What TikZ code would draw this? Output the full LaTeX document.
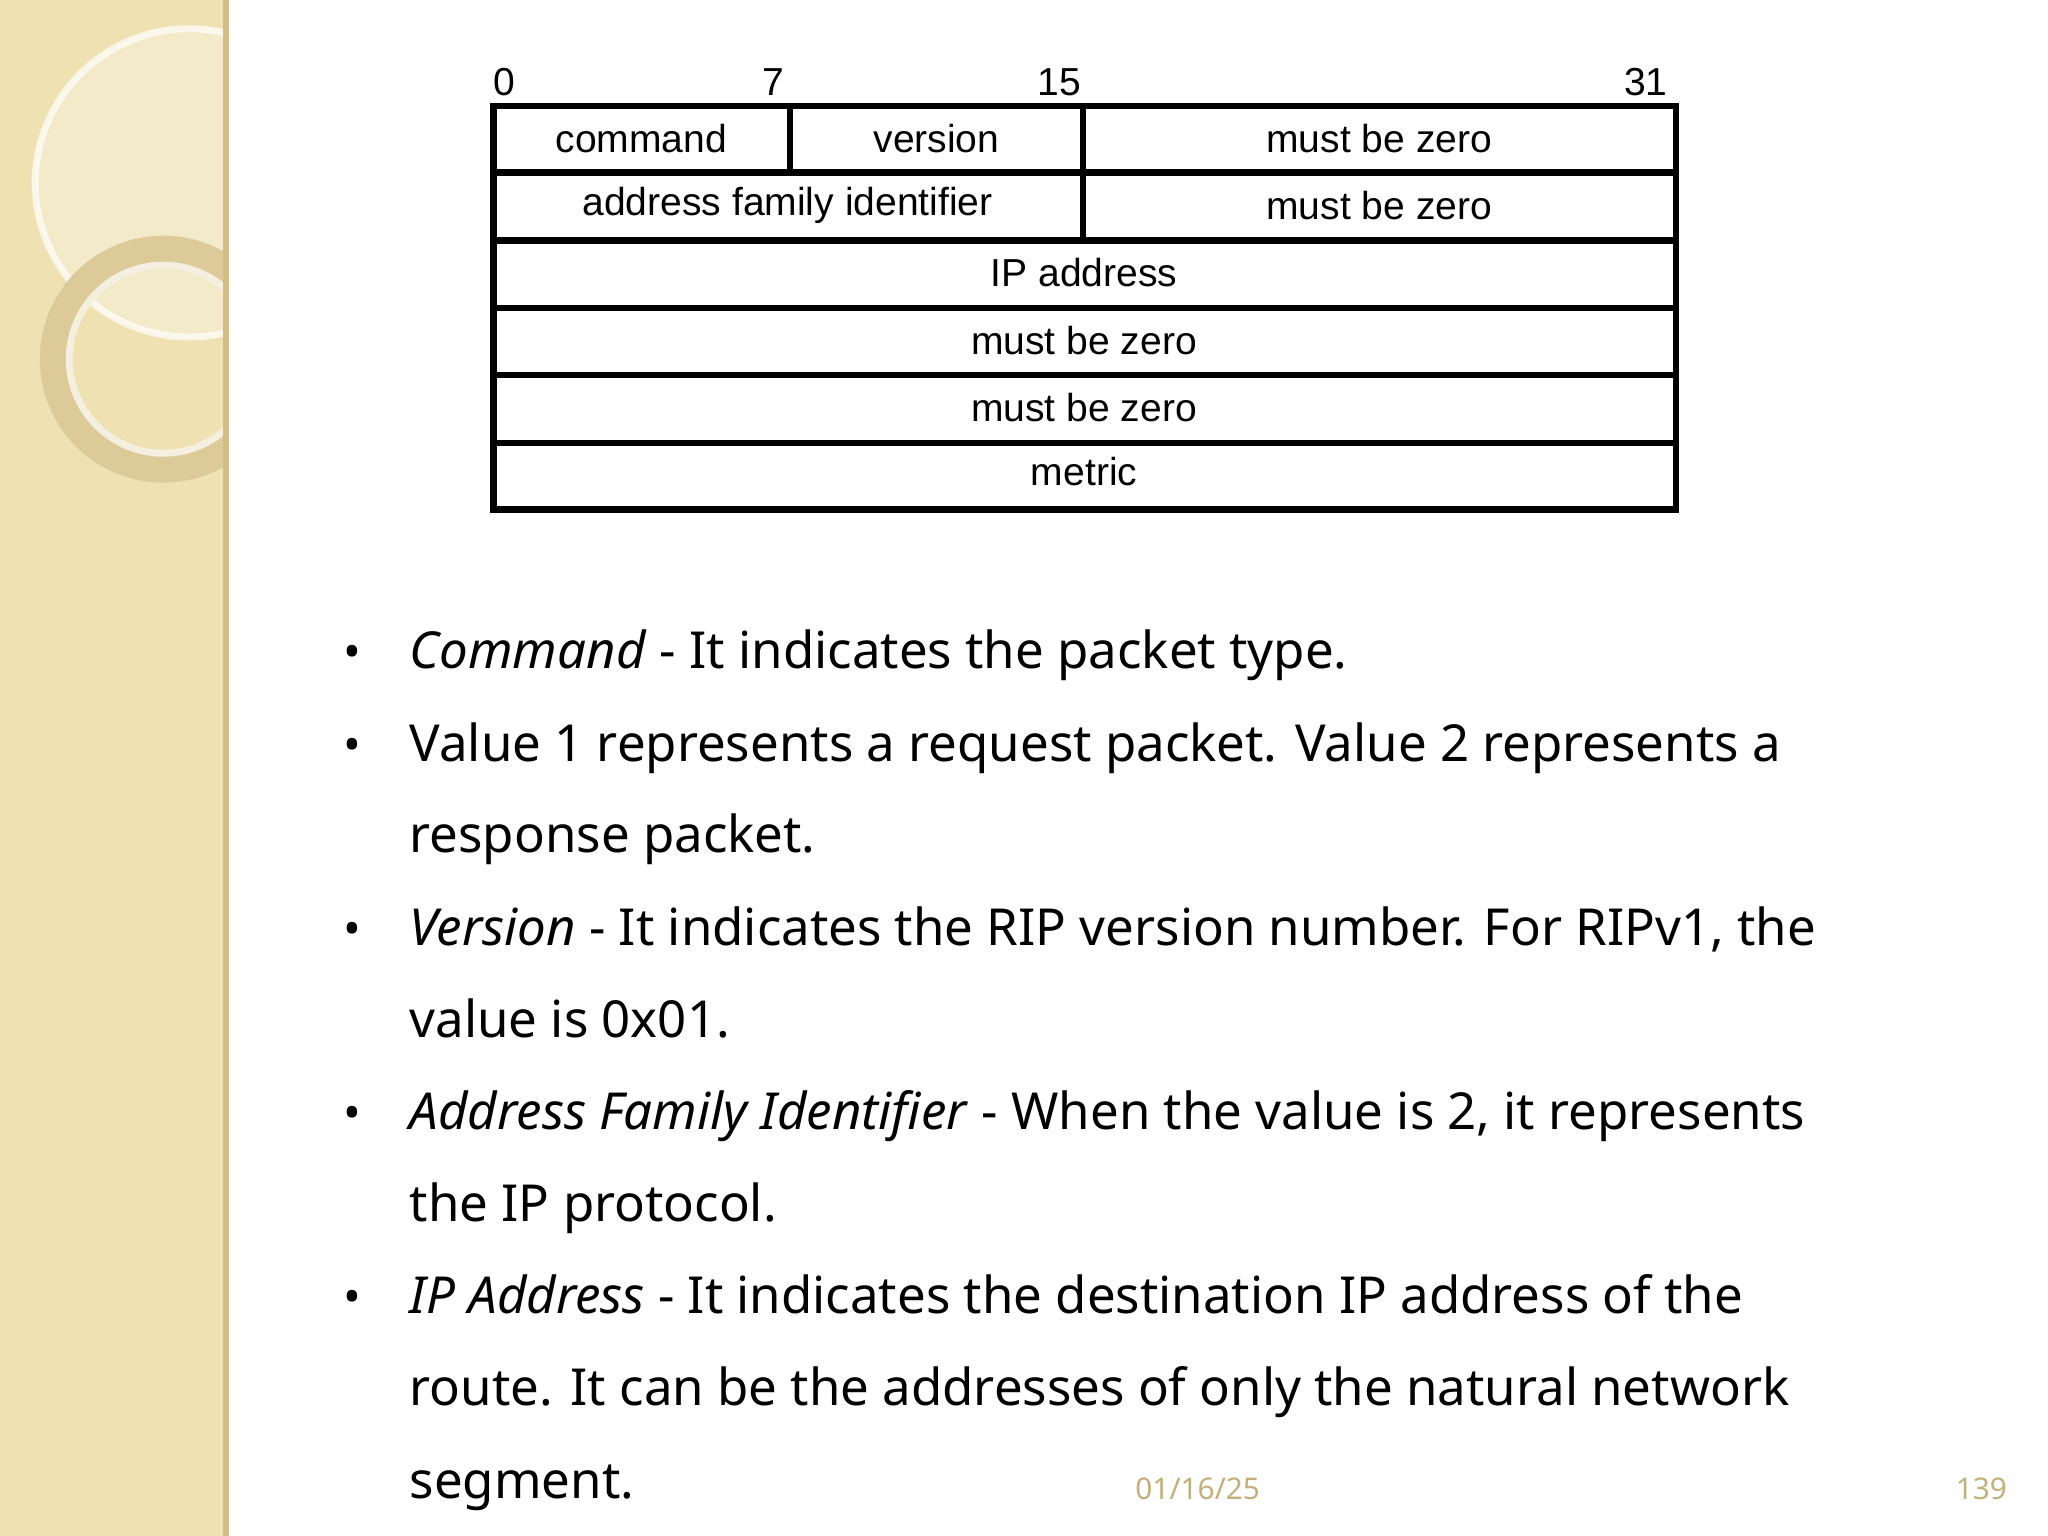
\documentclass[tikz,border=0pt]{standalone}
\usepackage{fontspec}
\setmainfont{Noto Sans}[AutoFakeBold=2.2]
\newfontfamily\tabfont{Liberation Sans}
\definecolor{band}{HTML}{EFE2B2}
\definecolor{ring}{HTML}{DCCB98}
\definecolor{footc}{HTML}{C4B07A}
\begin{document}
\begin{tikzpicture}[x=0.01cm,y=-0.01cm,
  cell/.style={draw=black,line width=1.4pt},
  lab/.style={font=\tabfont\fontsize{8.5}{10}\selectfont,inner sep=0pt},
  bul/.style={anchor=base west,font=\fontsize{11.1}{13}\selectfont,inner sep=0pt},
  dot/.style={anchor=base,font=\fontsize{10.3}{12}\selectfont,inner sep=0pt},
  foot/.style={font=\fontsize{6.5}{8}\selectfont,text=footc,inner sep=0pt}]
\useasboundingbox (0,0) rectangle (1568,1176);
\fill[white] (0,0) rectangle (1568,1176);
% left band
\fill[band] (0,0) rectangle (173,1176);
\begin{scope}
\clip (0,0) rectangle (173,1176);
\fill[white,opacity=0.3] (145,140) circle (118);
\draw[white,line width=1.5pt,opacity=0.7] (145,140) circle (118);
\draw[ring,line width=6pt] (125,275) circle (84);
\draw[white!70!ring,line width=1.5pt] (125,275) circle (72);
\end{scope}
\draw[ring!80!brown,line width=1.5pt] (173,0) -- (173,1176);
% header
\node[lab] (h0) at (386,63) {0};
\node[lab] (h7) at (592,63) {7};
\node[lab] (h15) at (811,63) {15};
\node[lab] (h31) at (1260,63) {31};
% table
\draw[cell] (378,81) rectangle (1283,390);
\foreach \y in {132,184,236,287,339} \draw[cell] (378,\y) -- (1283,\y);
\draw[cell] (605,81) -- (605,132);
\draw[cell] (829,81) -- (829,184);
\node[lab] (c1) at (491,106) {command};
\node[lab] (c2) at (717,106) {version};
\node[lab] (c3) at (1056,106) {must be zero};
\node[lab] (c4) at (603,157) {address family identifier};
\node[lab] (c5) at (1056,157) {must be zero};
\node[lab] (c6) at (830,209) {IP address};
\node[lab] (c7) at (830,261) {must be zero};
\node[lab] (c8) at (830,312) {must be zero};
\node[lab] (c9) at (830,361) {metric};
% bullets
\foreach \y in {512,583,724,865,1006} \node[dot] at (270,\y) {•};
\node[bul] (t1) at (313,512) {\textbf{\textit{Command}} - It indicates the packet type.};
\node[bul] (t2) at (313,583) {Value 1 represents a request packet. Value 2 represents a};
\node[bul] (t3) at (313,653) {response packet.};
\node[bul] (t4) at (313,724) {\textbf{\textit{Version}} - It indicates the RIP version number. For RIPv1, the};
\node[bul] (t5) at (313,794) {value is 0x01.};
\node[bul] (t6) at (313,865) {\textbf{\textit{Address Family Identifier}} - When the value is 2, it represents};
\node[bul] (t7) at (313,935) {the IP protocol.};
\node[bul] (t8) at (313,1006) {\textbf{\textit{IP Address}} - It indicates the destination IP address of the};
\node[bul] (t9) at (313,1076) {route. It can be the addresses of only the natural network};
\node[bul] (t10) at (313,1147) {segment.};
\node[foot] (f1) at (917,1140) {01/16/25};
\node[foot] (f2) at (1517,1140) {139};
\end{tikzpicture}
\end{document}
